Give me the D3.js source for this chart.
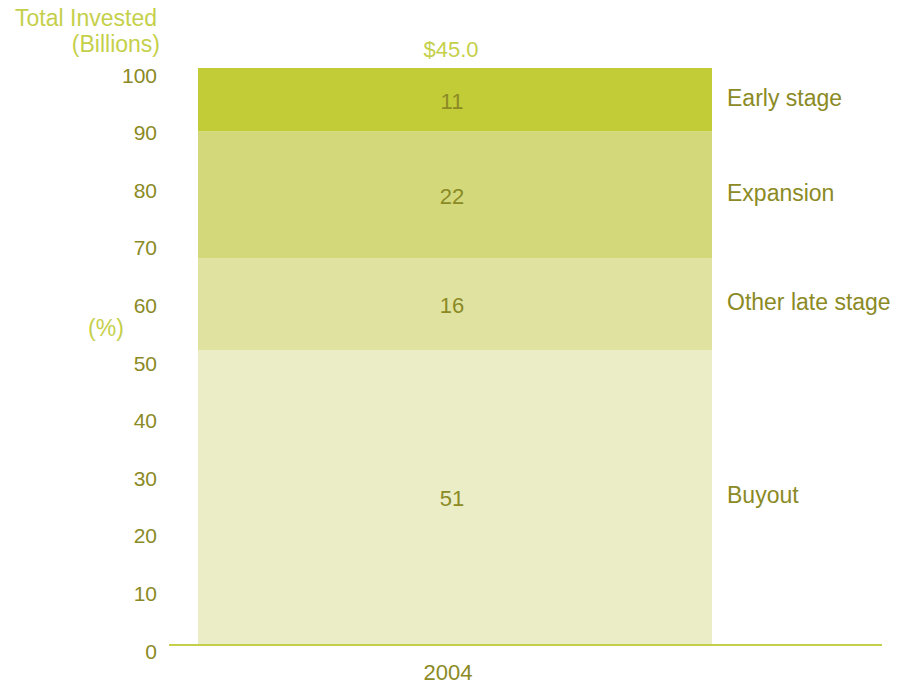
<!DOCTYPE html>
<html><head><meta charset="utf-8">
<script src="https://cdn.jsdelivr.net/npm/d3@7"></script>
<style>body{margin:0;background:#fff}svg{display:block}text{font-family:"Liberation Sans",Arial,sans-serif}</style>
</head><body><svg id="c" width="898" height="685"></svg>
<script>
const categories = ["2004"];
const segments = ["Buyout","Other late stage","Expansion","Early stage"];
const values = [51,16,22,11];
const totals = ["$45.0"];
const yTicks = [0,10,20,30,40,50,60,70,80,90,100];
const colors = ["#eaedc6","#e0e3a0","#d3d97b","#c2cc37"];

const svg = d3.select("#c");
const textCol = "#8b8a25", lightCol = "#c5d04a";
const FF = '"Liberation Sans",Arial,sans-serif';
const y = d3.scaleLinear().domain([0,100]).range([644,68]);
const x = d3.scaleBand().domain(categories).range([198,712]).padding(0);

let acc = 0;
const stack = values.map((v,i)=>{const s={name:segments[i],v,y0:acc,y1:acc+v,c:colors[i]};acc+=v;return s;});

svg.selectAll("rect.seg").data(stack).join("rect")
  .attr("x",x("2004")).attr("width",x.bandwidth())
  .attr("y",d=>y(d.y1)).attr("height",d=>y(d.y0)-y(d.y1)).attr("fill",d=>d.c);

// value labels
svg.selectAll("text.val").data(stack).join("text")
  .attr("x",x("2004")+x.bandwidth()/2-3).attr("y",d=>y((d.y0+d.y1)/2)+9)
  .attr("text-anchor","middle").attr("font-size",22).attr("fill",textCol).text(d=>d.v);

// segment names
svg.selectAll("text.nm").data(stack).join("text")
  .attr("x",727).attr("y",d=>y((d.y0+d.y1)/2)+6)
  .attr("font-size",23).attr("fill",textCol).text(d=>d.name);

// y axis tick labels
const yAxis = d3.axisLeft(y).tickValues(yTicks).tickSize(0).tickPadding(0);
const g = svg.append("g").attr("transform","translate(157,0)").call(yAxis);
g.select(".domain").remove();
g.selectAll("text").attr("font-size",21).attr("fill",textCol).attr("dy",0).attr("y",14)
  .style("font-family",FF);

// x axis line
svg.append("line").attr("x1",169).attr("x2",882).attr("y1",645).attr("y2",645)
  .attr("stroke",lightCol).attr("stroke-width",2);

// x labels
const xa = d3.axisBottom(x).tickSize(0).tickPadding(0);
const gx = svg.append("g").attr("transform","translate(-7,0)").call(xa);
gx.attr("transform","translate(-7,0)");
gx.select(".domain").remove();
gx.selectAll(".tick").attr("transform",d=>`translate(${x(d)+x.bandwidth()/2},0)`);
gx.selectAll("text").attr("font-size",22).attr("fill",textCol).attr("dy",0).attr("y",680)
  .style("font-family",FF);

// totals
svg.selectAll("text.tot").data(categories).join("text")
  .attr("x",d=>x(d)+x.bandwidth()/2-4).attr("y",57).attr("text-anchor","middle")
  .attr("font-size",22).attr("fill",lightCol).text((d,i)=>totals[i]);

// titles
svg.append("text").attr("x",157).attr("y",26).attr("text-anchor","end").attr("font-size",23).attr("fill",lightCol).text("Total Invested");
svg.append("text").attr("x",160).attr("y",52).attr("text-anchor","end").attr("font-size",23).attr("fill",lightCol).text("(Billions)");
svg.append("text").attr("x",106).attr("y",336).attr("text-anchor","middle").attr("font-size",23).attr("fill",lightCol).text("(%)");
</script></body></html>
